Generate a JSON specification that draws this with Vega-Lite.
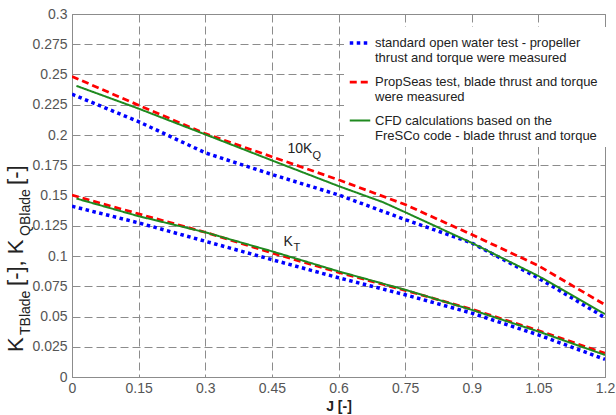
{
  "$schema": "https://vega.github.io/schema/vega-lite/v6.json",
  "width": 533,
  "height": 363,
  "autosize": {"type": "none"},
  "padding": {"left": 72, "top": 14, "right": 11, "bottom": 38},
  "config": {
    "font": "Liberation Sans",
    "view": {"stroke": "#8c8c8c", "strokeWidth": 1},
    "axis": {
      "labelFont": "Liberation Sans",
      "labelFontSize": 14,
      "labelColor": "#555555",
      "labelOverlap": false,
      "grid": true,
      "gridColor": "#8c8c8c",
      "gridDash": [8, 4],
      "gridWidth": 1,
      "domainColor": "#8c8c8c",
      "ticks": false,
      "titleFont": "Liberation Sans"
    },
    "legend": {
      "orient": "none", "legendX": 272, "legendY": 13,
      "fillColor": "white", "padding": 4, "symbolType": "stroke", "symbolSize": 420,
      "labelFont": "Liberation Sans", "labelFontSize": 13, "labelColor": "#222222", "labelLimit": 0,
      "labelLineHeight": 18, "rowPadding": 5, "labelOffset": 3
    }
  },
  "datasets": {
    "curves": [
      {"J": 0, "v": 0.2337, "s": "open water", "c": "KQ"},
      {"J": 0.15, "v": 0.211, "s": "open water", "c": "KQ"},
      {"J": 0.3, "v": 0.1853, "s": "open water", "c": "KQ"},
      {"J": 0.45, "v": 0.1674, "s": "open water", "c": "KQ"},
      {"J": 0.6, "v": 0.1505, "s": "open water", "c": "KQ"},
      {"J": 0.75, "v": 0.1301, "s": "open water", "c": "KQ"},
      {"J": 0.9, "v": 0.1108, "s": "open water", "c": "KQ"},
      {"J": 1.05, "v": 0.0818, "s": "open water", "c": "KQ"},
      {"J": 1.2, "v": 0.0491, "s": "open water", "c": "KQ"},
      {"J": 0, "v": 0.1411, "s": "open water", "c": "KT"},
      {"J": 0.15, "v": 0.1274, "s": "open water", "c": "KT"},
      {"J": 0.3, "v": 0.1122, "s": "open water", "c": "KT"},
      {"J": 0.45, "v": 0.097, "s": "open water", "c": "KT"},
      {"J": 0.6, "v": 0.082, "s": "open water", "c": "KT"},
      {"J": 0.75, "v": 0.068, "s": "open water", "c": "KT"},
      {"J": 0.9, "v": 0.0528, "s": "open water", "c": "KT"},
      {"J": 1.05, "v": 0.0348, "s": "open water", "c": "KT"},
      {"J": 1.2, "v": 0.0146, "s": "open water", "c": "KT"},
      {"J": 0, "v": 0.2484, "s": "PropSeas", "c": "KQ"},
      {"J": 0.15, "v": 0.2246, "s": "PropSeas", "c": "KQ"},
      {"J": 0.3, "v": 0.2011, "s": "PropSeas", "c": "KQ"},
      {"J": 0.45, "v": 0.182, "s": "PropSeas", "c": "KQ"},
      {"J": 0.6, "v": 0.163, "s": "PropSeas", "c": "KQ"},
      {"J": 0.75, "v": 0.1425, "s": "PropSeas", "c": "KQ"},
      {"J": 0.9, "v": 0.1177, "s": "PropSeas", "c": "KQ"},
      {"J": 1.05, "v": 0.092, "s": "PropSeas", "c": "KQ"},
      {"J": 1.2, "v": 0.0597, "s": "PropSeas", "c": "KQ"},
      {"J": 0, "v": 0.1503, "s": "PropSeas", "c": "KT"},
      {"J": 0.15, "v": 0.1348, "s": "PropSeas", "c": "KT"},
      {"J": 0.3, "v": 0.1196, "s": "PropSeas", "c": "KT"},
      {"J": 0.45, "v": 0.1025, "s": "PropSeas", "c": "KT"},
      {"J": 0.6, "v": 0.0865, "s": "PropSeas", "c": "KT"},
      {"J": 0.75, "v": 0.0716, "s": "PropSeas", "c": "KT"},
      {"J": 0.9, "v": 0.056, "s": "PropSeas", "c": "KT"},
      {"J": 1.05, "v": 0.0384, "s": "PropSeas", "c": "KT"},
      {"J": 1.2, "v": 0.0196, "s": "PropSeas", "c": "KT"},
      {"J": 0.01, "v": 0.2406, "s": "CFD", "c": "KQ"},
      {"J": 0.15, "v": 0.2218, "s": "CFD", "c": "KQ"},
      {"J": 0.3, "v": 0.2005, "s": "CFD", "c": "KQ"},
      {"J": 0.45, "v": 0.179, "s": "CFD", "c": "KQ"},
      {"J": 0.6, "v": 0.1578, "s": "CFD", "c": "KQ"},
      {"J": 0.7, "v": 0.1445, "s": "CFD", "c": "KQ"},
      {"J": 0.75, "v": 0.1362, "s": "CFD", "c": "KQ"},
      {"J": 0.9, "v": 0.1108, "s": "CFD", "c": "KQ"},
      {"J": 1.05, "v": 0.0835, "s": "CFD", "c": "KQ"},
      {"J": 1.1, "v": 0.073, "s": "CFD", "c": "KQ"},
      {"J": 1.2, "v": 0.052, "s": "CFD", "c": "KQ"},
      {"J": 0.01, "v": 0.1475, "s": "CFD", "c": "KT"},
      {"J": 0.15, "v": 0.1329, "s": "CFD", "c": "KT"},
      {"J": 0.3, "v": 0.1196, "s": "CFD", "c": "KT"},
      {"J": 0.45, "v": 0.1039, "s": "CFD", "c": "KT"},
      {"J": 0.6, "v": 0.0873, "s": "CFD", "c": "KT"},
      {"J": 0.75, "v": 0.0721, "s": "CFD", "c": "KT"},
      {"J": 0.9, "v": 0.0555, "s": "CFD", "c": "KT"},
      {"J": 1.05, "v": 0.0376, "s": "CFD", "c": "KT"},
      {"J": 1.2, "v": 0.0182, "s": "CFD", "c": "KT"}
    ]
  },
  "layer": [
    {
      "data": {"name": "curves"},
      "mark": {"type": "line", "strokeCap": "butt", "clip": true},
      "encoding": {
        "x": {
          "field": "J", "type": "quantitative",
          "scale": {"domain": [0, 1.2], "nice": false, "zero": false},
          "axis": {
            "values": [0, 0.15, 0.3, 0.45, 0.6, 0.75, 0.9, 1.05, 1.2],
            "tickCount": 20,
            "labelExpr": "format(datum.value, '~g')", "labelPadding": 4, "labelFlush": false, "labelOverlap": false,
            "title": "J [-]", "titleFontSize": 14, "titleFontWeight": "bold",
            "titleColor": "#222222", "titlePadding": 4
          }
        },
        "y": {
          "field": "v", "type": "quantitative",
          "scale": {"domain": [0, 0.3], "nice": false},
          "axis": {
            "values": [0, 0.025, 0.05, 0.075, 0.1, 0.125, 0.15, 0.175, 0.2, 0.225, 0.25, 0.275, 0.3],
            "tickCount": 20,
            "labelExpr": "format(datum.value, '~g')", "labelPadding": 5, "labelFlush": false, "labelOverlap": false,
            "labelSeparation": 0, "title": null
          }
        },
        "color": {
          "field": "s", "type": "nominal",
          "scale": {"domain": ["open water", "PropSeas", "CFD"], "range": ["#0000ff", "#ff0000", "#1f8a1f"]},
          "legend": {
            "title": null,
            "labelExpr": "datum.value == 'open water' ? ['standard open water test - propeller', 'thrust and torque were measured'] : datum.value == 'PropSeas' ? ['PropSeas  test, blade thrust and torque', 'were measured'] : ['CFD calculations based on the', 'FreSCo code - blade thrust and torque']"
          }
        },
        "strokeDash": {
          "field": "s", "type": "nominal",
          "scale": {"domain": ["open water", "PropSeas", "CFD"], "range": [[3.5, 3.5], [7, 4], [1, 0]]},
          "legend": {
            "title": null,
            "labelExpr": "datum.value == 'open water' ? ['standard open water test - propeller', 'thrust and torque were measured'] : datum.value == 'PropSeas' ? ['PropSeas  test, blade thrust and torque', 'were measured'] : ['CFD calculations based on the', 'FreSCo code - blade thrust and torque']"
          }
        },
        "strokeWidth": {
          "field": "s", "type": "nominal",
          "scale": {"domain": ["open water", "PropSeas", "CFD"], "range": [3.5, 2, 2]},
          "legend": {
            "title": null,
            "labelExpr": "datum.value == 'open water' ? ['standard open water test - propeller', 'thrust and torque were measured'] : datum.value == 'PropSeas' ? ['PropSeas  test, blade thrust and torque', 'were measured'] : ['CFD calculations based on the', 'FreSCo code - blade thrust and torque']"
          }
        },
        "detail": {"field": "c", "type": "nominal"}
      }
    },
    {
      "data": {"values": [{"J": 0.485, "v": 0.1881, "t": "10K"}]},
      "mark": {"type": "text", "align": "left", "baseline": "middle", "fontSize": 14, "color": "#222222"},
      "encoding": {"x": {"field": "J", "type": "quantitative"}, "y": {"field": "v", "type": "quantitative"}, "text": {"field": "t"}}
    },
    {
      "data": {"values": [{"J": 0.485, "v": 0.1881, "t": "Q"}]},
      "mark": {"type": "text", "align": "left", "baseline": "middle", "fontSize": 11, "dx": 25, "dy": 7, "color": "#222222"},
      "encoding": {"x": {"field": "J", "type": "quantitative"}, "y": {"field": "v", "type": "quantitative"}, "text": {"field": "t"}}
    },
    {
      "data": {"values": [{"J": 0.476, "v": 0.1119, "t": "K"}]},
      "mark": {"type": "text", "align": "left", "baseline": "middle", "fontSize": 14, "color": "#222222"},
      "encoding": {"x": {"field": "J", "type": "quantitative"}, "y": {"field": "v", "type": "quantitative"}, "text": {"field": "t"}}
    },
    {
      "data": {"values": [{"J": 0.476, "v": 0.1119, "t": "T"}]},
      "mark": {"type": "text", "align": "left", "baseline": "middle", "fontSize": 11, "dx": 10, "dy": 6, "color": "#222222"},
      "encoding": {"x": {"field": "J", "type": "quantitative"}, "y": {"field": "v", "type": "quantitative"}, "text": {"field": "t"}}
    },
    {
      "data": {"values": [{}]},
      "mark": {"type": "text", "angle": 270, "align": "left", "baseline": "middle", "fontSize": 22, "dx": 0, "dy": -56, "color": "#222222"},
      "encoding": {"x": {"datum": 0}, "y": {"datum": 0.0207}, "text": {"value": "K"}}
    },
    {
      "data": {"values": [{}]},
      "mark": {"type": "text", "angle": 270, "align": "left", "baseline": "middle", "fontSize": 14, "dx": 17, "dy": -46, "color": "#222222"},
      "encoding": {"x": {"datum": 0}, "y": {"datum": 0.0207}, "text": {"value": "TBlade"}}
    },
    {
      "data": {"values": [{}]},
      "mark": {"type": "text", "angle": 270, "align": "left", "baseline": "middle", "fontSize": 22, "dx": 66, "dy": -56, "color": "#222222"},
      "encoding": {"x": {"datum": 0}, "y": {"datum": 0.0207}, "text": {"value": "[-], K"}}
    },
    {
      "data": {"values": [{}]},
      "mark": {"type": "text", "angle": 270, "align": "left", "baseline": "middle", "fontSize": 14, "dx": 116, "dy": -46, "color": "#222222"},
      "encoding": {"x": {"datum": 0}, "y": {"datum": 0.0207}, "text": {"value": "QBlade"}}
    },
    {
      "data": {"values": [{}]},
      "mark": {"type": "text", "angle": 270, "align": "left", "baseline": "middle", "fontSize": 22, "dx": 167, "dy": -56, "color": "#222222"},
      "encoding": {"x": {"datum": 0}, "y": {"datum": 0.0207}, "text": {"value": "[-]"}}
    }
  ]
}
